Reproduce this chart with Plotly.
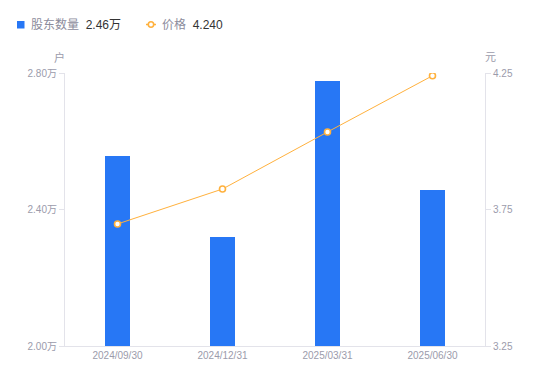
import plotly.graph_objects as go

categories = ["2024/09/30", "2024/12/31", "2025/03/31", "2025/06/30"]
holders_wan = [2.557, 2.32, 2.777, 2.456]
price = [3.697, 3.825, 4.034, 4.240]
left_ticks = [2.00, 2.40, 2.80]
left_ticktext = ["2.00万", "2.40万", "2.80万"]
right_ticks = [3.25, 3.75, 4.25]
right_ticktext = ["3.25", "3.75", "4.25"]

BLUE = "#2777f5"
ORANGE = "#ffb13d"
AXIS = "#e3e3ea"
TICK = "#9b9bab"
FONT = "Liberation Sans, Arial, Noto Sans CJK SC, sans-serif"

L, R, T, B = 65, 65, 73, 35
W, H = 550, 381
PW, PH = W - L - R, H - T - B


def px(x):
    return (x - L) / PW


def py(y):
    return (H - B - y) / PH


fig = go.Figure()
fig.add_trace(go.Bar(x=categories, y=holders_wan, marker=dict(color=BLUE, line=dict(width=0)),
                     width=0.24, yaxis="y", name="股东数量"))
fig.add_trace(go.Scatter(x=categories, y=price, yaxis="y2", mode="lines+markers", name="价格",
                         line=dict(color=ORANGE, width=1),
                         marker=dict(size=6, color="white", line=dict(color=ORANGE, width=1.6))))

fig.update_layout(
    width=W, height=H,
    margin=dict(l=L, r=R, t=T, b=B, autoexpand=False),
    paper_bgcolor="white", plot_bgcolor="white",
    showlegend=False,
    font=dict(family=FONT, size=10, color=TICK),
    bargap=0,
    xaxis=dict(showline=True, linecolor=AXIS, linewidth=1, ticks="", showgrid=False,
               tickfont=dict(size=10, color=TICK), zeroline=False, automargin=False),
    yaxis=dict(range=[2.0, 2.8], tickvals=left_ticks, ticktext=left_ticktext,
               showline=True, linecolor=AXIS, linewidth=1, ticks="outside", ticklen=5,
               tickcolor=AXIS, showgrid=False, zeroline=False, automargin=False,
               tickfont=dict(size=10, color=TICK)),
    yaxis2=dict(range=[3.25, 4.25], tickvals=right_ticks, ticktext=right_ticktext,
                overlaying="y", side="right", automargin=False,
                showline=True, linecolor=AXIS, linewidth=1, ticks="outside", ticklen=5,
                tickcolor=AXIS, showgrid=False, zeroline=False, tickfont=dict(size=10, color=TICK)),
)

# axis unit labels
fig.add_annotation(x=px(59), y=py(57), xref="paper", yref="paper",
                   text="户", showarrow=False, font=dict(size=11, color=TICK),
                   xanchor="center", yanchor="middle")
fig.add_annotation(x=px(490), y=py(57), xref="paper", yref="paper",
                   text="元", showarrow=False, font=dict(size=11, color=TICK),
                   xanchor="center", yanchor="middle")

# custom legend
fig.add_shape(type="rect", xref="paper", yref="paper", x0=px(17), x1=px(24.5),
              y0=py(28.5), y1=py(21), fillcolor=BLUE, line=dict(width=0))
fig.add_annotation(xref="paper", yref="paper", x=px(29), y=py(25), xanchor="left", yanchor="middle",
                   showarrow=False,
                   text=f"<span style='color:#8c8c9c'>股东数量</span>  <span style='color:#333333'>{holders_wan[-1]:.2f}万</span>",
                   font=dict(size=12))
fig.add_shape(type="line", xref="paper", yref="paper", x0=px(146), x1=px(156), y0=py(24.5), y1=py(24.5),
              line=dict(color=ORANGE, width=1.5))
fig.add_shape(type="circle", xref="paper", yref="paper", x0=px(148.3), x1=px(153.7), y0=py(27.2), y1=py(21.8),
              fillcolor="white", line=dict(color=ORANGE, width=1.6))
fig.add_annotation(xref="paper", yref="paper", x=px(160), y=py(25), xanchor="left", yanchor="middle",
                   showarrow=False,
                   text=f"<span style='color:#8c8c9c'>价格</span>  <span style='color:#333333'>{price[-1]:.3f}</span>",
                   font=dict(size=12))

fig.write_html("out.html", config={"displayModeBar": False},
               post_script="document.body.style.margin='0';document.body.style.overflow='hidden';")
